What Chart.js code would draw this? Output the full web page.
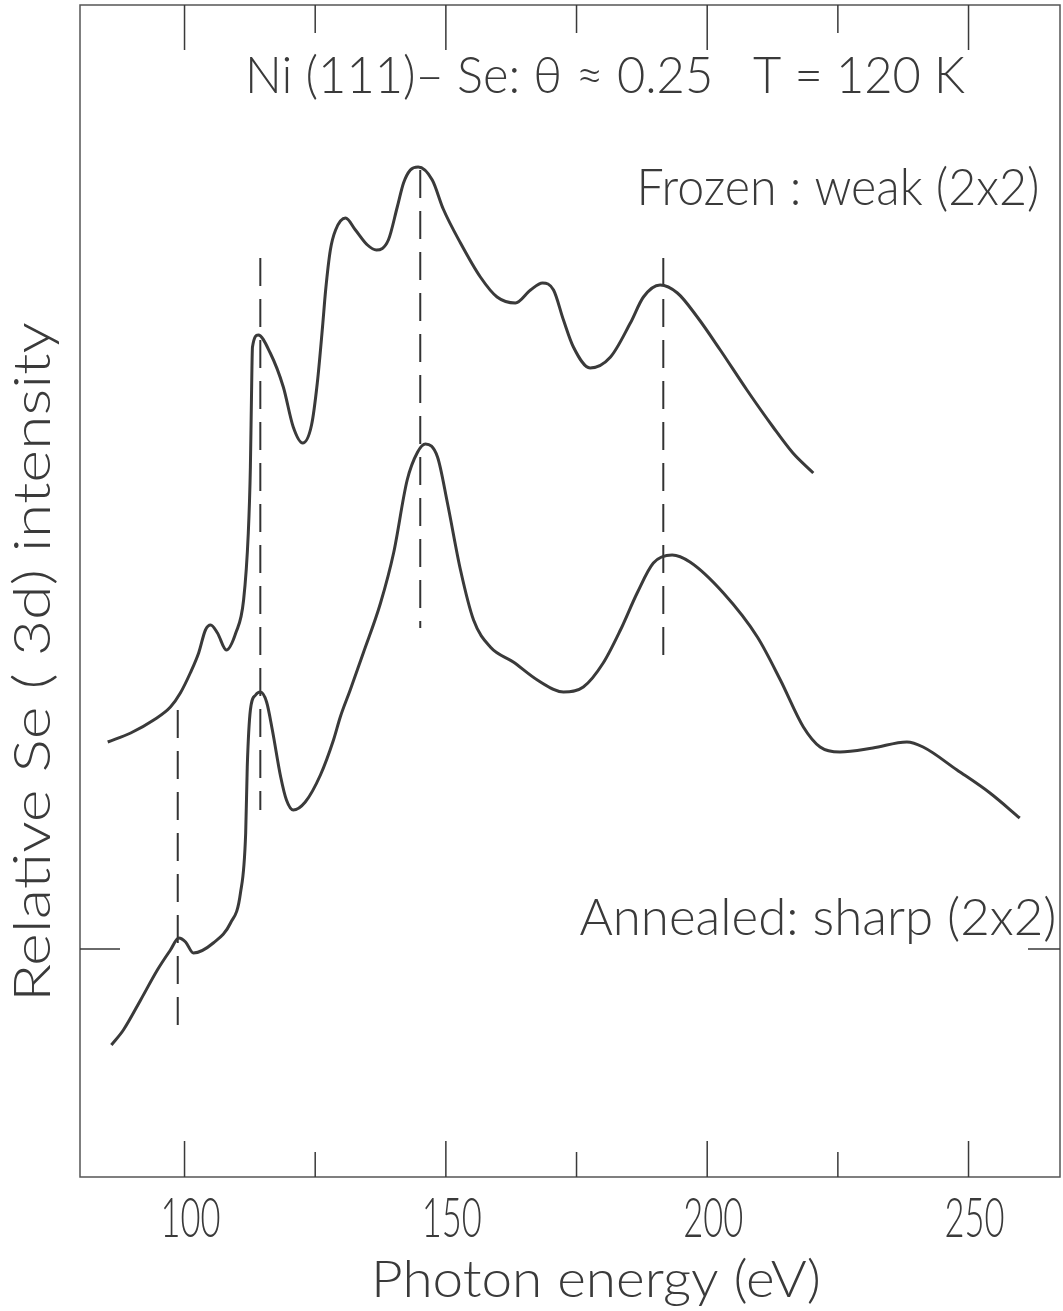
<!DOCTYPE html>
<html>
<head>
<meta charset="utf-8">
<script src="https://cdn.jsdelivr.net/npm/chart.js@4.4.1/dist/chart.umd.min.js"></script>
<style>
  html, body { margin: 0; padding: 0; background: #fff; }
  #wrap { width: 1063px; height: 1311px; position: relative; }
</style>
</head>
<body>
<div id="wrap"><canvas id="grafico"></canvas></div>
<script>
// Frozen: weak (2x2)
const frozenEnergy = [85.3, 89.7, 94.1, 97.3, 99.2, 101.1, 102.7, 104.0, 105.0, 106.3, 108.0, 109.8, 111.3, 112.2, 112.6,
  112.8, 113.0, 114.1, 116.4, 118.9, 120.8, 122.6, 124.3, 125.4, 126.4, 127.0, 127.9, 128.9, 130.8, 132.7,
  135.0, 136.7, 139.0, 140.7, 141.9, 143.2, 144.7, 147.4, 149.5, 152.8, 156.6, 159.8, 163.3, 166.2, 168.5,
  170.6, 172.5, 174.4, 177.6, 181.5, 185.3, 187.8, 191.0, 194.3, 198.1, 202.5, 207.6, 212.6, 216.4, 220.3];
const frozenIntensity = [4.35, 4.44, 4.57, 4.70, 4.84, 5.04, 5.24, 5.47, 5.52, 5.44, 5.27, 5.44, 5.77, 6.44, 7.10,
  7.77, 8.30, 8.42, 8.24, 7.90, 7.50, 7.34, 7.52, 7.94, 8.50, 8.87, 9.27, 9.47, 9.59, 9.47,
  9.32, 9.27, 9.37, 9.70, 9.94, 10.07, 10.10, 9.97, 9.68, 9.34, 9.00, 8.80, 8.74, 8.87, 8.94,
  8.87, 8.57, 8.30, 8.09, 8.20, 8.54, 8.80, 8.92, 8.84, 8.60, 8.27, 7.87, 7.50, 7.24, 7.04];

// Annealed: sharp (2x2)
const annealedEnergy = [86.0, 88.3, 91.6, 94.8, 97.3, 98.9, 100.2, 101.7, 105.5, 108.8, 110.7, 111.7, 112.0, 112.6, 113.6,
  114.5, 115.7, 116.8, 118.4, 119.5, 120.8, 123.1, 126.0, 128.5, 129.8, 131.7, 134.2, 137.5, 140.0, 142.6,
  144.6, 146.1, 148.4, 150.3, 152.8, 155.3, 158.5, 162.9, 167.5, 172.5, 176.3, 180.1, 183.4, 186.6, 189.7,
  193.3, 196.7, 203.1, 209.6, 214.0, 218.4, 221.6, 225.4, 231.7, 238.2, 241.3, 247.8, 254.1, 259.8];
const annealedIntensity = [1.32, 1.47, 1.77, 2.07, 2.27, 2.39, 2.35, 2.24, 2.34, 2.54, 2.84, 3.44, 4.10, 4.67, 4.82,
  4.85, 4.75, 4.47, 4.00, 3.77, 3.67, 3.75, 4.02, 4.37, 4.60, 4.87, 5.24, 5.74, 6.24, 6.97,
  7.25, 7.33, 7.20, 6.74, 6.07, 5.57, 5.30, 5.15, 4.97, 4.85, 4.90, 5.14, 5.47, 5.84, 6.14,
  6.22, 6.15, 5.84, 5.40, 4.97, 4.50, 4.30, 4.25, 4.29, 4.35, 4.30, 4.07, 3.84, 3.59];

// dashed peak markers
const peakEnergy = [98.7, 114.5, 145.1, 191.6];
const peakTop = [4.67, 9.19, 10.07, 9.19];
const peakBottom = [1.52, 3.67, 5.49, 5.22];

const majorTicks = [100, 150, 200, 250];
const minorTicks = [125, 175, 225];
const tickLabels = ['100', '150', '200', '250'];
const yMarks = [2.28];

const xMin = 80, xMax = 267.5, yMin = 0, yMax = 11.72;

const FONT = '300 52px Lato, "Liberation Sans", sans-serif';
const FONT_TICK = '300 56px Lato, "Liberation Sans", sans-serif';
const INK = '#3a3a3a';

function pares(xs, ys) {
  return xs.map((x, i) => ({ x: x, y: ys[i] }));
}

// text squeezed horizontally to look like the condensed lettering of the original
function texto(ctx, txt, x, y, largura, ang, fonte) {
  ctx.save();
  ctx.font = fonte || FONT;
  const w = ctx.measureText(txt).width;
  ctx.translate(x, y);
  if (ang) ctx.rotate(ang);
  ctx.scale(largura / w, 1);
  ctx.textAlign = 'center';
  ctx.textBaseline = 'alphabetic';
  ctx.fillStyle = INK;
  ctx.fillText(txt, 0, 0);
  ctx.restore();
}

const moldura = {
  id: 'moldura',
  afterDraw(chart) {
    const { ctx, chartArea: a, scales } = chart;
    const sx = scales.x, sy = scales.y;
    ctx.save();
    ctx.strokeStyle = '#555';
    ctx.lineWidth = 1.5;
    ctx.strokeRect(a.left, a.top, a.right - a.left, a.bottom - a.top);

    ctx.strokeStyle = INK;
    ctx.beginPath();
    majorTicks.forEach(v => {
      const px = sx.getPixelForValue(v);
      ctx.moveTo(px, a.bottom); ctx.lineTo(px, a.bottom - 36);
      ctx.moveTo(px, a.top); ctx.lineTo(px, a.top + 45);
    });
    minorTicks.forEach(v => {
      const px = sx.getPixelForValue(v);
      ctx.moveTo(px, a.bottom); ctx.lineTo(px, a.bottom - 25);
      ctx.moveTo(px, a.top); ctx.lineTo(px, a.top + 28);
    });
    yMarks.forEach(v => {
      const py = sy.getPixelForValue(v);
      ctx.moveTo(a.left, py); ctx.lineTo(a.left + 40, py);
      ctx.moveTo(a.right, py); ctx.lineTo(a.right - 32, py);
    });
    ctx.stroke();
    ctx.restore();

    majorTicks.forEach((v, i) => {
      texto(ctx, tickLabels[i], sx.getPixelForValue(v) + 6, a.bottom + 60, 60, 0, FONT_TICK);
    });

    texto(ctx, 'Photon energy (eV)', 596, 1297, 450);
    texto(ctx, 'Relative Se ( 3d) intensity', 50, 662, 680, -Math.PI / 2);
    texto(ctx, 'Ni (111)\u2013 Se: \u03B8 \u2248 0.25   T = 120 K', 605, 93, 720);
    texto(ctx, 'Frozen : weak (2x2)', 838, 205, 403);
    texto(ctx, 'Annealed: sharp (2x2)', 818, 935, 477);
  }
};

const linhas = [
  {
    label: 'Frozen: weak (2x2)',
    data: pares(frozenEnergy, frozenIntensity),
    borderColor: INK,
    borderWidth: 3,
    pointRadius: 0,
    cubicInterpolationMode: 'monotone',
    fill: false
  },
  {
    label: 'Annealed: sharp (2x2)',
    data: pares(annealedEnergy, annealedIntensity),
    borderColor: INK,
    borderWidth: 3,
    pointRadius: 0,
    cubicInterpolationMode: 'monotone',
    fill: false
  }
];

peakEnergy.forEach((e, i) => {
  linhas.push({
    label: 'peak ' + e,
    data: [{ x: e, y: peakTop[i] }, { x: e, y: peakBottom[i] }],
    borderColor: '#333',
    borderWidth: 2,
    borderDash: [28, 13],
    pointRadius: 0,
    fill: false
  });
});

new Chart(document.getElementById('grafico').getContext('2d'), {
  type: 'line',
  data: { datasets: linhas },
  options: {
    responsive: true,
    maintainAspectRatio: false,
    animation: false,
    layout: { padding: { left: 80, right: 3, top: 5, bottom: 134 } },
    scales: {
      x: { type: 'linear', min: xMin, max: xMax, display: false },
      y: { type: 'linear', min: yMin, max: yMax, display: false }
    },
    plugins: { legend: { display: false }, tooltip: { enabled: false } }
  },
  plugins: [moldura]
});
</script>
</body>
</html>
